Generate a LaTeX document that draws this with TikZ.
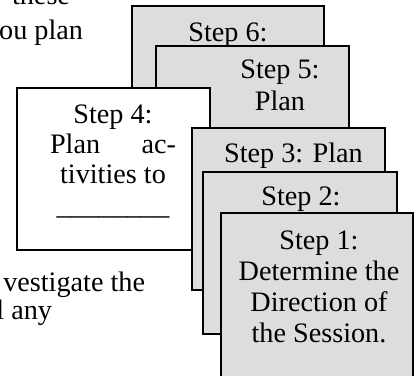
\documentclass[tikz,border=0pt]{standalone}
\usepackage{fontspec}
\setmainfont{Liberation Serif}
\definecolor{boxgray}{RGB}{221,221,221}
\tikzset{
  stepbox/.style={draw=black, line width=1.6pt, fill=boxgray, rectangle, inner sep=0pt, outer sep=0pt, minimum width=193pt, minimum height=162pt, anchor=north west},
  whitebox/.style={stepbox, fill=white},
  lbl/.style={inner sep=0pt, outer sep=0pt, anchor=base, font=\fontsize{28.2}{31}\selectfont},
  bgtext/.style={inner sep=0pt, outer sep=0pt, anchor=base east, font=\fontsize{28.2}{31}\selectfont}
}
\begin{document}
\begin{tikzpicture}[x=1pt,y=-1pt]
\useasboundingbox (0,0) rectangle (415,375);
% background document text
\node[bgtext] (t1) at (70,4) {these};
\node[bgtext] (t2) at (83,39) {ou plan};
\node[bgtext] (t3) at (145,291) {vestigate the};
\node[bgtext] (t4) at (52,319) {l any};
% step 6
\node[stepbox, minimum width=192pt, minimum height=194pt] (s6) at (132,6) {};
\node[lbl] (s6a) at (228,41) {Step 6:};
% step 5
\node[stepbox, minimum height=154pt] (s5) at (156,46) {};
\node[lbl] (s5a) at (280,78) {Step 5:};
\node[lbl] (s5b) at (280,110) {Plan};
% step 4
\node[whitebox] (s4) at (17,88) {};
\node[lbl] (s4a) at (113,123) {Step 4:};
\node[lbl] (s4b) at (113,153) {\makebox[126pt]{Plan\hfill ac-}};
\node[lbl] (s4c) at (113,183) {tivities to};
\node[lbl] (s4d) at (113,214) {\_\_\_\_\_\_\_\_};
% step 3
\node[stepbox] (s3) at (192,128) {};
\node[lbl] (s3a) at (293.5,162) {Step 3: Plan};
% step 2
\node[stepbox, minimum width=194pt] (s2) at (203,172) {};
\node[lbl] (s2a) at (301,205) {Step 2:};
% step 1
\node[stepbox, minimum width=192pt, minimum height=166pt] (s1) at (221,213) {};
\node[lbl] (s1a) at (319,249) {Step 1:};
\node[lbl] (s1b) at (319,280) {Determine the};
\node[lbl] (s1c) at (319,311) {Direction of};
\node[lbl] (s1d) at (319,342) {the Session.};
\end{tikzpicture}
\end{document}
